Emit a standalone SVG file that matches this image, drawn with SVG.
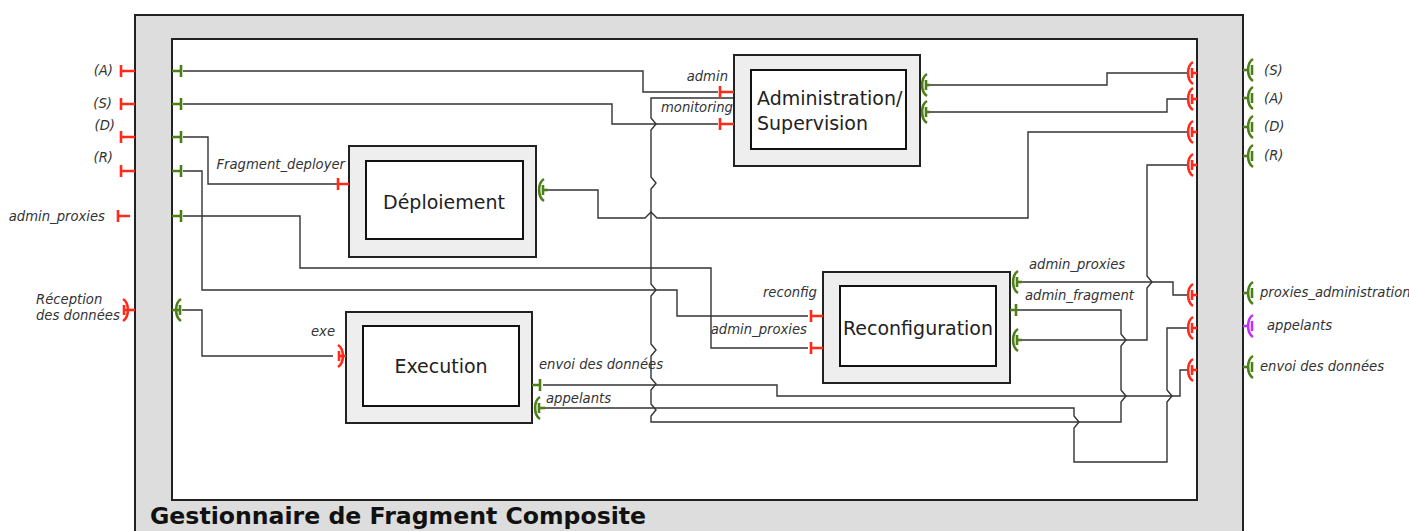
<svg xmlns="http://www.w3.org/2000/svg" width="1409" height="531" viewBox="0 0 1409 531">
<style>
.frame{fill:#dddddd;stroke:#222;stroke-width:2}
.inner{fill:#fff;stroke:#222;stroke-width:2}
.cout{fill:#eeeeee;stroke:#222;stroke-width:2}
.cin{fill:#fff;stroke:#111;stroke-width:2}
.conn{fill:none;stroke:#333;stroke-width:1.4}
.red{fill:none;stroke:#ff2a1a;stroke-width:2.6}
.grn{fill:none;stroke:#4d7f17;stroke-width:2.6}
.mag{fill:none;stroke:#c030ff;stroke-width:2.6}
.lbl{font-family:"DejaVu Sans",sans-serif;font-style:italic;font-size:13.2px;fill:#333}
.box{font-family:"DejaVu Sans",sans-serif;font-size:19px;fill:#222}
.title{font-family:"DejaVu Sans",sans-serif;font-weight:bold;font-size:23.6px;fill:#111}
</style>
<defs>
<path id="sk" d="M5,-11 C-1.5,-7 -1.5,7 5,11 M4,-5 V5"/>
</defs>
<g id="composite">
<rect class="frame" x="135" y="15" width="1108" height="530"/>
<rect class="inner" x="172" y="39" width="1025" height="461"/>
<text class="title" x="150" y="524">Gestionnaire de Fragment Composite</text>
</g>
<g id="connectors">
<path class="conn" d="M183,71 H643 V92 H718"/>
<path class="conn" d="M183,104 H612 V124 H718"/>
<path class="conn" d="M183,137 H208 V184 H337"/>
<path class="conn" d="M183,171 H202 V290 H677 V316 H808"/>
<path class="conn" d="M183,216 H300 V268 H711 V348 H808"/>
<path class="conn" d="M182,310 H202 V356 H333"/>
<path class="conn" d="M1016,310 H1121 V334 L1126,340 L1121,346 V390 L1126,396 L1121,402 V422 H651 V416 L656,410 L651,404 V390 L656,384 L651,378 V356 L656,350 L651,344 V296 L656,290 L651,284 V189 L656,183 L651,177 V130 L656,124 L651,118 V98 H733"/>
<path class="conn" d="M930,85 H1107 V73 H1188"/>
<path class="conn" d="M930,112 H1167 V99 H1188"/>
<path class="conn" d="M548,190 H598 V218 H645 L651,212 L657,218 H1028 V132 H1188"/>
<path class="conn" d="M1188,165 H1147 V276 L1152,282 L1147,288 V340 H1022"/>
<path class="conn" d="M1022,282 H1173 V295 H1188"/>
<path class="conn" d="M543,385 H777 V396 H1180 V370 H1188"/>
<path class="conn" d="M545,408 H1074 V416 L1079,422 L1074,428 V462 H1167 V402 L1172,396 L1167,390 V328 H1188"/>
</g>
<g id="port-left-A"><path class="red" d="M121,65 V77 M121,71 H135"/><path class="grn" d="M172,71 H181 M181,65 V77"/><text class="lbl" x="113" y="75" text-anchor="end">(A)</text></g>
<g id="port-left-S"><path class="red" d="M121,98 V110 M121,104 H135"/><path class="grn" d="M172,104 H181 M181,98 V110"/><text class="lbl" x="112" y="108" text-anchor="end">(S)</text></g>
<g id="port-left-D"><path class="red" d="M121,131 V143 M121,137 H135"/><path class="grn" d="M172,137 H181 M181,131 V143"/><text class="lbl" x="115" y="130" text-anchor="end">(D)</text></g>
<g id="port-left-R"><path class="red" d="M121,165 V177 M121,171 H135"/><path class="grn" d="M172,171 H181 M181,165 V177"/><text class="lbl" x="113" y="162" text-anchor="end">(R)</text></g>
<g id="port-left-admin_proxies"><path class="red" d="M118,210 V222 M118,216 H130"/><path class="grn" d="M172,216 H181 M181,210 V222"/><text class="lbl" x="105" y="221" text-anchor="end">admin_proxies</text></g>
<g id="port-left-reception">
<use href="#sk" class="red" transform="translate(128,310) scale(-1,1)"/><path class="red" d="M125,310 H135"/>
<use href="#sk" class="grn" transform="translate(176,310)"/><path class="grn" d="M172,310 H180"/>
<text class="lbl" x="36" y="304">Réception</text><text class="lbl" x="36" y="320">des données</text>
</g>
<g id="admin">
<rect class="cout" x="734" y="55" width="186" height="111"/>
<rect class="cin" x="751" y="70" width="155" height="79"/>
<text class="box" x="757" y="105">Administration/</text>
<text class="box" x="757" y="130">Supervision</text>
<path class="red" d="M720,86 V98 M720,92 H734 M720,118 V130 M720,124 H734"/>
<text class="lbl" x="728" y="81" text-anchor="end">admin</text>
<text class="lbl" x="733" y="112" text-anchor="end">monitoring</text>
<use href="#sk" class="grn" transform="translate(922,85)"/><path class="grn" d="M926,85 H930"/>
<use href="#sk" class="grn" transform="translate(922,112)"/><path class="grn" d="M926,112 H930"/>
</g>
<g id="deploiement">
<rect class="cout" x="349" y="146" width="187" height="111"/>
<rect class="cin" x="366" y="161" width="157" height="78"/>
<text class="box" x="444" y="209" text-anchor="middle">Déploiement</text>
<path class="red" d="M338,178 V190 M338,184 H349"/>
<text class="lbl" x="345" y="169" text-anchor="end">Fragment_deployer</text>
<use href="#sk" class="grn" transform="translate(539,190)"/><path class="grn" d="M543,190 H548"/>
</g>
<g id="execution">
<rect class="cout" x="346" y="312" width="186" height="111"/>
<rect class="cin" x="363" y="326" width="156" height="80"/>
<text class="box" x="441" y="373" text-anchor="middle">Execution</text>
<use href="#sk" class="red" transform="translate(343,356) scale(-1,1)"/><path class="red" d="M339,356 H346"/>
<text class="lbl" x="335" y="336" text-anchor="end">exe</text>
<path class="grn" d="M532,385 H540 M540,379 V391"/>
<use href="#sk" class="grn" transform="translate(535,408)"/><path class="grn" d="M539,408 H545"/>
<text class="lbl" x="539" y="369">envoi des données</text>
<text class="lbl" x="546" y="403">appelants</text>
</g>
<g id="reconfiguration">
<rect class="cout" x="823" y="272" width="187" height="111"/>
<rect class="cin" x="840" y="286" width="156" height="80"/>
<text class="box" x="918" y="335" text-anchor="middle">Reconfiguration</text>
<path class="red" d="M811,310 V322 M811,316 H823 M811,342 V354 M811,348 H823"/>
<text class="lbl" x="817" y="297" text-anchor="end">reconfig</text>
<text class="lbl" x="807" y="334" text-anchor="end">admin_proxies</text>
<use href="#sk" class="grn" transform="translate(1013,282)"/><path class="grn" d="M1017,282 H1022"/>
<path class="grn" d="M1010,310 H1016 M1016,304 V316"/>
<use href="#sk" class="grn" transform="translate(1013,340)"/><path class="grn" d="M1017,340 H1022"/>
<text class="lbl" x="1029" y="269">admin_proxies</text>
<text class="lbl" x="1025" y="300">admin_fragment</text>
</g>
<g id="ports-right-inner">
<use href="#sk" class="red" transform="translate(1188,73)"/><path class="red" d="M1192,73 H1197"/>
<use href="#sk" class="red" transform="translate(1188,99)"/><path class="red" d="M1192,99 H1197"/>
<use href="#sk" class="red" transform="translate(1188,132)"/><path class="red" d="M1192,132 H1197"/>
<use href="#sk" class="red" transform="translate(1188,165)"/><path class="red" d="M1192,165 H1197"/>
<use href="#sk" class="red" transform="translate(1188,295)"/><path class="red" d="M1192,295 H1197"/>
<use href="#sk" class="red" transform="translate(1188,328)"/><path class="red" d="M1192,328 H1197"/>
<use href="#sk" class="red" transform="translate(1188,370)"/><path class="red" d="M1192,370 H1197"/>
</g>
<g id="ports-right-outer">
<path class="grn" d="M1243,70 H1248"/><use href="#sk" class="grn" transform="translate(1248,70)"/><text class="lbl" x="1264" y="75">(S)</text>
<path class="grn" d="M1243,98 H1248"/><use href="#sk" class="grn" transform="translate(1248,98)"/><text class="lbl" x="1264" y="103">(A)</text>
<path class="grn" d="M1243,127 H1248"/><use href="#sk" class="grn" transform="translate(1248,127)"/><text class="lbl" x="1264" y="131">(D)</text>
<path class="grn" d="M1243,156 H1248"/><use href="#sk" class="grn" transform="translate(1248,156)"/><text class="lbl" x="1264" y="160">(R)</text>
<path class="grn" d="M1243,293 H1248"/><use href="#sk" class="grn" transform="translate(1248,293)"/><text class="lbl" x="1260" y="297">proxies_administration</text>
<path class="mag" d="M1243,326 H1248"/><use href="#sk" class="mag" transform="translate(1248,326)"/><text class="lbl" x="1267" y="330">appelants</text>
<path class="grn" d="M1243,367 H1248"/><use href="#sk" class="grn" transform="translate(1248,367)"/><text class="lbl" x="1260" y="371">envoi des données</text>
</g>
</svg>
